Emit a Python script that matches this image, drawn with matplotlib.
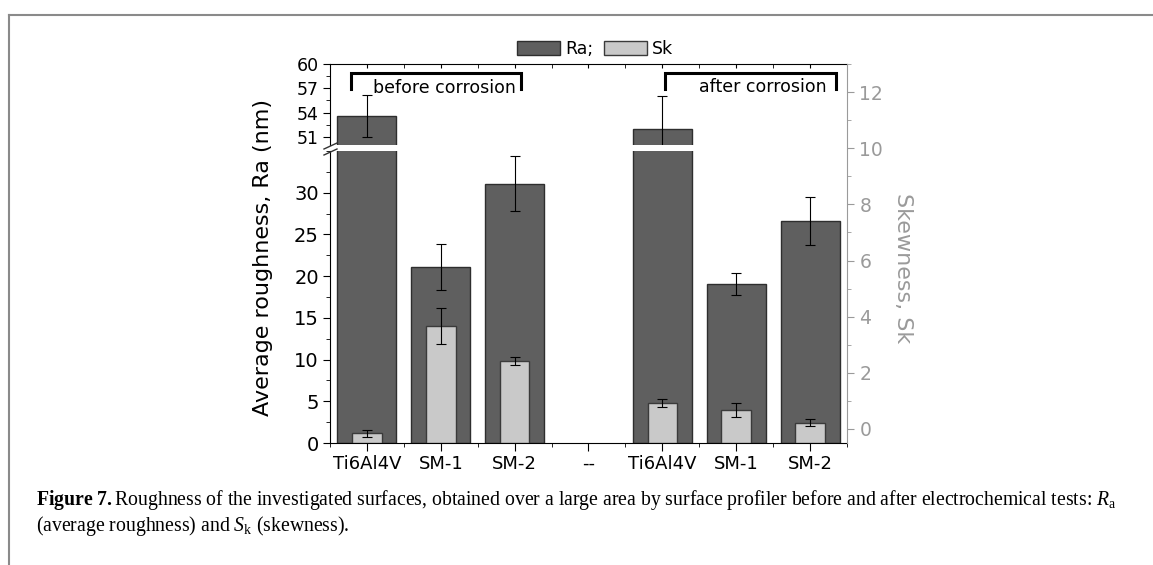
import numpy as np
import matplotlib
matplotlib.use("Agg")
import matplotlib.pyplot as plt
from matplotlib.patches import Patch
from matplotlib.lines import Line2D
from matplotlib.ticker import MultipleLocator, FixedLocator

plt.rcParams['font.family'] = 'DejaVu Sans'
plt.rcParams['mathtext.fontset'] = 'custom'
plt.rcParams['mathtext.rm'] = 'Liberation Serif'
plt.rcParams['mathtext.it'] = 'Liberation Serif:italic'
plt.rcParams['mathtext.bf'] = 'Liberation Serif:bold'

# data
categories = ['Ti6Al4V', 'SM-1', 'SM-2', '--', 'Ti6Al4V', 'SM-1', 'SM-2']
ra = np.array([53.6, 21.1, 31.1, np.nan, 52.0, 19.1, 26.6])
ra_err = np.array([2.6, 2.8, 3.3, np.nan, 4.0, 1.3, 2.9])
sk = np.array([-0.15, 3.67, 2.42, np.nan, 0.92, 0.67, 0.23])
sk_err = np.array([0.13, 0.63, 0.14, np.nan, 0.15, 0.26, 0.12])

dark = '#5f5f5f'
light = '#c9c9c9'
grey = '#9a9a9a'

x = np.arange(len(categories))
sk_base = -0.5

fig = plt.figure(figsize=(11.53, 5.65), dpi=100)

left, width = 0.2862, 0.4484
ax_top = fig.add_axes([left, 0.7434, width, 0.1433])
ax_bot = fig.add_axes([left, 0.2159, width, 0.5168])
ax_r = fig.add_axes([left, 0.2159, width, 0.6708])

for ax in (ax_top, ax_bot):
    ax.bar(x, ra, width=0.8, color=dark, edgecolor='#2e2e2e', linewidth=1.0)
    ax.errorbar(x, ra, yerr=ra_err, fmt='none', ecolor='black', elinewidth=0.8,
                capsize=3.5, capthick=0.8)
    ax.set_xlim(-0.5, 6.5)
    ax.spines['right'].set_visible(False)

ax_top.set_ylim(50, 60)
ax_bot.set_ylim(0, 35)

ax_top.spines['bottom'].set_visible(False)
ax_bot.spines['top'].set_visible(False)

ax_top.yaxis.set_major_locator(FixedLocator([51, 54, 57, 60]))
ax_top.yaxis.set_minor_locator(FixedLocator([52.5, 55.5, 58.5]))
ax_top.xaxis.set_ticks_position('top')
ax_top.set_xticks(x)
ax_top.set_xticks(x[:-1] + 0.5, minor=True)
ax_top.tick_params(axis='x', which='both', direction='in', length=3, labeltop=False)
ax_top.tick_params(axis='y', which='major', direction='out', length=5, labelsize=12.5, pad=3)
ax_top.tick_params(axis='y', which='minor', direction='out', length=3)

ax_bot.yaxis.set_major_locator(MultipleLocator(5))
ax_bot.yaxis.set_minor_locator(MultipleLocator(2.5))
ax_bot.set_yticks([0, 5, 10, 15, 20, 25, 30])
ax_bot.set_xticks(x)
ax_bot.set_xticklabels(categories)
ax_bot.set_xticks(np.arange(-0.5, 7, 1.0), minor=True)
ax_bot.tick_params(axis='x', which='major', direction='out', length=5.5, labelsize=13, pad=3)
ax_bot.tick_params(axis='x', which='minor', direction='out', length=3)
ax_bot.tick_params(axis='y', which='major', direction='out', length=5, labelsize=14, pad=3)
ax_bot.tick_params(axis='y', which='minor', direction='out', length=3)

# skewness on the right axis
ax_r.patch.set_visible(False)
ax_r.bar(x, sk - sk_base, bottom=sk_base, width=0.4, color=light,
         edgecolor='#3a3a3a', linewidth=1.0)
ax_r.errorbar(x, sk, yerr=sk_err, fmt='none', ecolor='black', elinewidth=0.8,
              capsize=3.5, capthick=0.8)
ax_r.set_xlim(-0.5, 6.5)
ax_r.set_ylim(sk_base, 13)
for s in ('left', 'top', 'bottom'):
    ax_r.spines[s].set_visible(False)
ax_r.spines['right'].set_color(grey)
ax_r.yaxis.tick_right()
ax_r.set_xticks([])
ax_r.yaxis.set_major_locator(MultipleLocator(2))
ax_r.yaxis.set_minor_locator(MultipleLocator(1))
ax_r.set_yticks([0, 2, 4, 6, 8, 10, 12])
ax_r.tick_params(axis='y', which='major', direction='out', length=5, colors=grey,
                 labelsize=13.5, pad=4)
ax_r.tick_params(axis='y', which='minor', direction='out', length=3, colors=grey)

# before / after brackets
for x0, x1 in [(-0.22, 2.09), (4.04, 6.35)]:
    ax_top.plot([x0, x0, x1, x1], [56.9, 58.9, 58.9, 56.9], color='black',
                lw=2.2, solid_joinstyle='miter', clip_on=False)
ax_top.text(0.08, 57.0, 'before corrosion', fontsize=12.5, va='center', ha='left')
ax_top.text(4.5, 57.1, 'after corrosion', fontsize=12.5, va='center', ha='left')

# axis break marks on the left spine
W, H = 1153.0, 565.0
for yc in (146.0, 152.0):
    fig.add_artist(Line2D([324 / W, 337 / W], [1 - (yc + 3) / H, 1 - (yc - 3) / H],
                          color='#333333', lw=1.0))

fig.text(263 / W, 1 - 257 / H, 'Average roughness, Ra (nm)', rotation=90,
         fontsize=16, ha='center', va='center')
fig.text(903 / W, 1 - 268 / H, 'Skewness, Sk', rotation=270, fontsize=16,
         color=grey, ha='center', va='center')

handles = [Patch(facecolor=dark, edgecolor='#2e2e2e'),
           Patch(facecolor=light, edgecolor='#3a3a3a')]
fig.legend(handles, ['Ra;', 'Sk'], loc='center', bbox_to_anchor=(0.516, 0.913),
           ncol=2, frameon=False, fontsize=12.5, handlelength=2.5, handleheight=0.85,
           handletextpad=0.3, columnspacing=0.6, borderpad=0)

# figure frame and caption
fig.add_artist(Line2D([9 / W, 1.0], [1 - 15 / H, 1 - 15 / H], color='#8a8a8a', lw=1.5))
fig.add_artist(Line2D([9 / W, 9 / W], [0, 1 - 15 / H], color='#8a8a8a', lw=1.5))
cap_kw = dict(fontsize=14.2, family='Liberation Serif', ha='left', va='center')
fig.text(36 / W, 1 - 500 / H,
         r'$\mathbf{Figure\ 7.}$Roughness of the investigated surfaces, obtained over a large area '
         r'by surface profiler before and after electrochemical tests: $R_\mathrm{a}$', **cap_kw)
fig.text(36 / W, 1 - 526 / H,
         r'(average roughness) and $S_\mathrm{k}$ (skewness).', **cap_kw)

fig.savefig('out.png', dpi=100)
